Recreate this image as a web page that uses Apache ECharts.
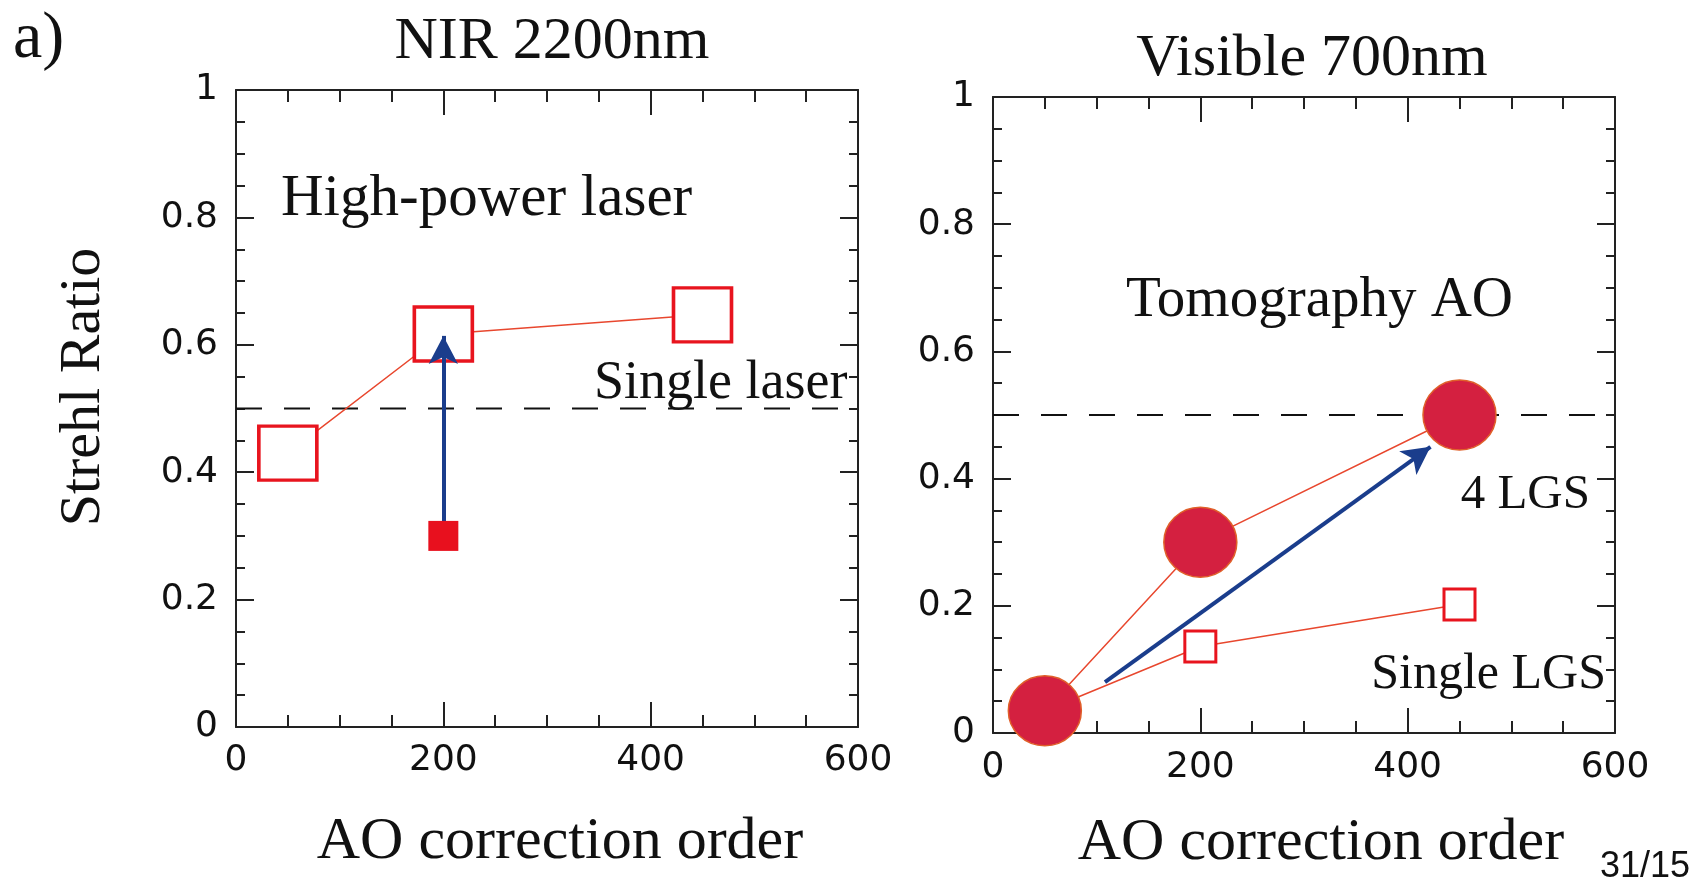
<!DOCTYPE html>
<html>
<head>
<meta charset="utf-8">
<script src="https://cdn.jsdelivr.net/npm/echarts@6/dist/echarts.min.js"></script>
<style>
html, body { margin: 0; padding: 0; background: #fff; }
#chart { width: 1693px; height: 880px; }
</style>
</head>
<body>
<div id="chart"></div>
<script>
// tick labels (shared by both panels)
const xTicks = [0, 200, 400, 600];
const yTicks = [0, 0.2, 0.4, 0.6, 0.8, 1];
const strehlGoal = 0.5; // dashed reference line

// a) NIR 2200nm
const nirOrder = [50, 200, 450];
const nirHighPower = [0.43, 0.617, 0.647];
const nirSingleOrder = [200];
const nirSingle = [0.30];
const nirArrow = [[200, 0.31], [200, 0.614]];

// Visible 700nm
const visOrder = [50, 200, 450];
const vis4LGS = [0.035, 0.30, 0.50];
const visSingleLGS = [0.035, 0.136, 0.202];
const visArrow = [[108, 0.08], [422, 0.45]];

const zip = (xs, ys) => xs.map((x, i) => [x, ys[i]]);

const SERIF = '"Liberation Serif", "Times New Roman", serif';
const INK = '#111';
const LINE_RED = '#e8472e';

function xAxisPair (grid, nameGap, labelMargin, shift) {
  const base = {
    gridIndex: grid,
    type: 'value',
    min: xTicks[0],
    max: xTicks[xTicks.length - 1],
    interval: xTicks[1] - xTicks[0],
    splitLine: { show: false },
    axisLine: { show: true, onZero: false, lineStyle: { color: '#222', width: 2 } },
    axisTick: { show: true, inside: true, length: 25, lineStyle: { color: '#222', width: 2 } },
    minorTick: { show: true, splitNumber: 4, length: 12, lineStyle: { color: '#222', width: 2 } },
    minorSplitLine: { show: false }
  }
  return [
    Object.assign({}, base, {
      position: 'bottom',
      name: 'AO correction order',
      nameLocation: 'middle',
      nameGap: nameGap,
      nameTextStyle: { fontFamily: SERIF, fontSize: 60, color: INK, padding: [0, 0, 0, shift] },
      axisLabel: { show: true, margin: labelMargin, fontFamily: '"DejaVu Sans", sans-serif', fontSize: 36, color: INK }
    }),
    Object.assign({}, base, { position: 'top', axisLabel: { show: false } })
  ]
}

function yAxisPair (grid) {
  const base = {
    gridIndex: grid,
    type: 'value',
    min: yTicks[0],
    max: yTicks[yTicks.length - 1],
    interval: yTicks[1] - yTicks[0],
    splitLine: { show: false },
    axisLine: { show: true, onZero: false, lineStyle: { color: '#222', width: 2 } },
    axisTick: { show: true, inside: true, length: 18, lineStyle: { color: '#222', width: 2 } },
    minorTick: { show: true, splitNumber: 4, length: 9, lineStyle: { color: '#222', width: 2 } },
    minorSplitLine: { show: false }
  }
  return [
    Object.assign({}, base, {
      position: 'left',
      axisLabel: { show: true, margin: 18, fontFamily: '"DejaVu Sans", sans-serif', fontSize: 36, color: INK }
    }),
    Object.assign({}, base, { position: 'right', axisLabel: { show: false } })
  ]
}

function dashed (axis) {
  return {
    type: 'line',
    xAxisIndex: axis,
    yAxisIndex: axis,
    data: [[xTicks[0], strehlGoal], [xTicks[xTicks.length - 1], strehlGoal]],
    symbol: 'none',
    silent: true,
    z: 1,
    lineStyle: { color: INK, width: 2, type: [26, 22] }
  }
}

function arrow (axis, pts, z) {
  return {
    type: 'line',
    xAxisIndex: axis,
    yAxisIndex: axis,
    data: [],
    z: z,
    markLine: {
      silent: true,
      symbol: ['none', 'arrow'],
      symbolSize: [22, 28],
      label: { show: false },
      lineStyle: { color: '#1a3d8c', width: 4, type: 'solid' },
      data: [[{ coord: pts[0] }, { coord: pts[1] }]]
    }
  }
}

function label (text, x, y, size, align, family) {
  return {
    type: 'text',
    x: x,
    y: y,
    silent: true,
    style: {
      text: text,
      font: size + 'px ' + (family || SERIF),
      fill: INK,
      align: align || 'left',
      textAlign: align || 'left',
      verticalAlign: 'middle',
      textVerticalAlign: 'middle'
    }
  }
}

const chart = echarts.init(document.getElementById('chart'))
chart.setOption({
  animation: false,
  backgroundColor: '#fff',
  grid: [
    { left: 236, top: 90, width: 622, height: 637 },
    { left: 993, top: 97, width: 622, height: 636 }
  ],
  xAxis: [].concat(xAxisPair(0, 85, 16, 26), xAxisPair(1, 80, 17, 34)),
  yAxis: [].concat(yAxisPair(0), yAxisPair(1)),
  series: [
    // left panel: xAxis/yAxis index 0
    dashed(0),
    {
      type: 'line',
      xAxisIndex: 0,
      yAxisIndex: 0,
      data: zip(nirOrder, nirHighPower),
      symbol: 'rect',
      symbolSize: [58, 54],
      z: 2,
      lineStyle: { color: LINE_RED, width: 1.5 },
      itemStyle: { color: '#fff', borderColor: '#e8141e', borderWidth: 3.5 }
    },
    arrow(0, nirArrow, 4),
    {
      type: 'scatter',
      xAxisIndex: 0,
      yAxisIndex: 0,
      data: zip(nirSingleOrder, nirSingle),
      symbol: 'rect',
      symbolSize: 30,
      z: 5,
      itemStyle: { color: '#e8101e', opacity: 1 }
    },
    // right panel: xAxis/yAxis index 2
    dashed(2),
    {
      type: 'line',
      xAxisIndex: 2,
      yAxisIndex: 2,
      data: zip(visOrder, visSingleLGS),
      symbol: 'rect',
      symbolSize: 31,
      z: 2,
      lineStyle: { color: LINE_RED, width: 1.5 },
      itemStyle: { color: '#fff', borderColor: '#e8141e', borderWidth: 3 }
    },
    arrow(2, visArrow, 3),
    {
      type: 'line',
      xAxisIndex: 2,
      yAxisIndex: 2,
      data: zip(visOrder, vis4LGS),
      symbol: 'circle',
      symbolSize: [73, 70],
      z: 4,
      lineStyle: { color: LINE_RED, width: 1.5 },
      itemStyle: { color: '#d42040', borderColor: '#e0602a', borderWidth: 1.5 }
    }
  ],
  graphic: [
    label('a)', 13, 40, 66),
    label('NIR 2200nm', 552, 42, 60, 'center'),
    label('Visible 700nm', 1312, 59, 60, 'center'),
    Object.assign(label('Strehl Ratio', 84, 387, 58, 'center'), { rotation: Math.PI / 2 }),
    label('High-power laser', 281, 199, 59),
    label('Single laser', 594, 384, 54),
    label('Tomography AO', 1126, 301, 57),
    label('4 LGS', 1590, 495, 49, 'right'),
    label('Single LGS', 1606, 675, 50, 'right'),
    label('31/15', 1690, 867, 36, 'right', '"Liberation Sans", Arial, sans-serif')
  ]
})
</script>
</body>
</html>
